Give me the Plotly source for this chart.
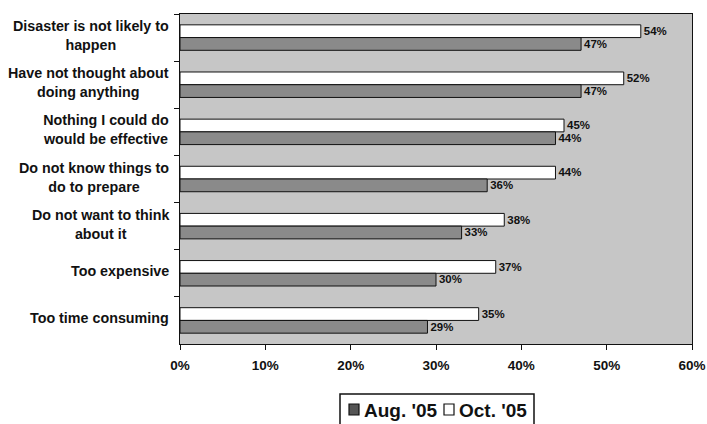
import plotly.graph_objects as go

categories = [
    "Disaster is not likely to<br>happen",
    "Have not thought about<br>doing anything",
    "Nothing I could do<br>would be effective",
    "Do not know things to<br>do to prepare",
    "Do not want to think<br>about it",
    "Too expensive",
    "Too time consuming",
]
aug_05 = [0.47, 0.47, 0.44, 0.36, 0.33, 0.30, 0.29]
oct_05 = [0.54, 0.52, 0.45, 0.44, 0.38, 0.37, 0.35]
x_ticks = [0, 0.1, 0.2, 0.3, 0.4, 0.5, 0.6]
series_names = ["Aug. '05", "Oct. '05"]

FONT = "Liberation Sans, Arial, sans-serif"
AUG_COLOR = "#8a8a8a"
OCT_COLOR = "#ffffff"

W, H = 707, 424
ML, MR, MT, MB = 180, 15, 14, 80
PW = W - ML - MR
PH = H - MT - MB


def px_x(px):  # window pixel -> paper x
    return (px - ML) / PW


def px_y(py):  # window pixel -> paper y
    return (H - MB - py) / PH


fig = go.Figure()
fig.add_trace(go.Bar(
    y=categories, x=oct_05, orientation="h", name=series_names[1],
    marker=dict(color=OCT_COLOR, line=dict(color="#111111", width=1)),
    text=[f"{v*100:.0f}%" for v in oct_05], textposition="outside",
    textfont=dict(family=FONT, size=13.5, color="#111111", weight="bold"),
    cliponaxis=False, showlegend=False,
))
fig.add_trace(go.Bar(
    y=categories, x=aug_05, orientation="h", name=series_names[0],
    marker=dict(color=AUG_COLOR, line=dict(color="#111111", width=1)),
    text=[f"{v*100:.0f}%" for v in aug_05], textposition="outside",
    textfont=dict(family=FONT, size=13.5, color="#111111", weight="bold"),
    cliponaxis=False, showlegend=False,
))

for c in categories:
    fig.add_annotation(
        x=0, xref="paper", y=c, yref="y", text=f"<b>{c}</b>",
        xanchor="right", yanchor="middle", align="center",
        xshift=-9, yshift=2,
        showarrow=False, font=dict(family=FONT, size=14.3, color="#111111"),
    )

# Legend box (drawn by hand so it can run off the bottom like the reference)
fig.add_shape(type="rect", xref="paper", yref="paper",
              x0=px_x(340), x1=px_x(534), y0=px_y(394), y1=px_y(440),
              line=dict(color="#111111", width=1.5), fillcolor="#ffffff",
              layer="above")
legend_items = [
    (series_names[0], "#555555", 349, 362),
    (series_names[1], OCT_COLOR, 444, 457),
]
for name, col, sx, tx in legend_items:
    fig.add_shape(type="rect", xref="paper", yref="paper",
                  x0=px_x(sx), x1=px_x(sx + 10), y0=px_y(404), y1=px_y(415),
                  line=dict(color="#111111", width=1.2), fillcolor=col,
                  layer="above")
    fig.add_annotation(
        x=px_x(tx), y=px_y(410), xref="paper", yref="paper",
        text=f"<b>{name}</b>", xanchor="left", yanchor="middle",
        showarrow=False, font=dict(family=FONT, size=19, color="#111111"),
    )

fig.update_layout(
    width=W, height=H,
    margin=dict(l=ML, r=MR, t=MT, b=MB),
    paper_bgcolor="#ffffff", plot_bgcolor="#c6c6c6",
    barmode="group", bargap=0.46, bargroupgap=0,
    font=dict(family=FONT, size=13, color="#111111"),
    showlegend=False,
    xaxis=dict(
        range=[0, 0.6], tickvals=x_ticks, tickformat=".0%",
        ticks="outside", ticklen=5, tickcolor="#111111",
        showline=True, linecolor="#111111", linewidth=1, mirror=True,
        showgrid=False, zeroline=False, automargin=False,
        tickfont=dict(family=FONT, size=13.5, color="#111111", weight="bold"),
        ticklabelstandoff=4,
    ),
    yaxis=dict(
        autorange="reversed", showticklabels=False,
        ticks="outside", ticklen=5, tickcolor="#111111", tickson="boundaries",
        showline=True, linecolor="#111111", linewidth=1, mirror=True,
        showgrid=False, zeroline=False, automargin=False,
    ),
)

fig.write_html(
    "out.html",
    config={"displayModeBar": False},
    post_script="document.body.style.margin='0';document.body.style.overflow='hidden';",
)
